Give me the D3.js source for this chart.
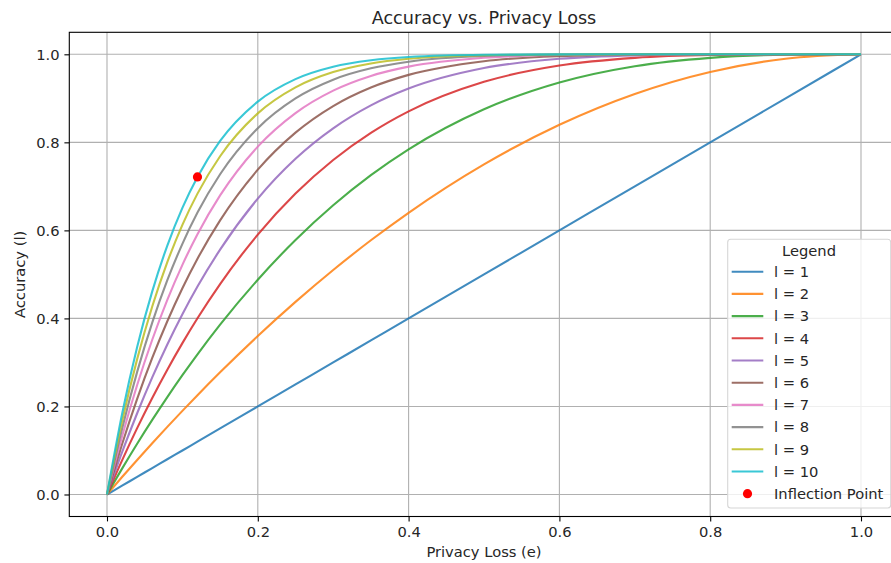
<!DOCTYPE html>
<html>
<head>
<meta charset="utf-8">
<script src="https://cdn.jsdelivr.net/npm/d3@7"></script>
<style>
  html, body { margin: 0; padding: 0; background: #fff; }
  svg { display: block; font-family: "DejaVu Sans", sans-serif; }
</style>
</head>
<body>
<svg id="chart" width="891" height="563"></svg>
<script>
// ---- data ----
const privacyLoss = [0, 0.02, 0.04, 0.06, 0.08, 0.1, 0.12, 0.15, 0.2, 0.25, 0.3, 0.35, 0.4, 0.5, 0.6, 0.7, 0.8, 0.9, 1.0];
const acc1  = [0, 0.02, 0.04, 0.06, 0.08, 0.1, 0.12, 0.15, 0.2, 0.25, 0.3, 0.35, 0.4, 0.5, 0.6, 0.7, 0.8, 0.9, 1];
const acc2  = [0, 0.0396, 0.0784, 0.1164, 0.1536, 0.19, 0.2256, 0.2775, 0.36, 0.4375, 0.51, 0.5775, 0.64, 0.75, 0.84, 0.91, 0.96, 0.99, 1];
const acc3  = [0, 0.0588, 0.1153, 0.1694, 0.2213, 0.271, 0.3185, 0.3859, 0.488, 0.5781, 0.657, 0.7254, 0.784, 0.875, 0.936, 0.973, 0.992, 0.999, 1];
const acc4  = [0, 0.0776, 0.1507, 0.2193, 0.2836, 0.3439, 0.4003, 0.478, 0.5904, 0.6836, 0.7599, 0.8215, 0.8704, 0.9375, 0.9744, 0.9919, 0.9984, 0.9999, 1];
const acc5  = [0, 0.0961, 0.1846, 0.2661, 0.3409, 0.4095, 0.4723, 0.5563, 0.6723, 0.7627, 0.8319, 0.884, 0.9222, 0.9688, 0.9898, 0.9976, 0.9997, 1, 1];
const acc6  = [0, 0.1142, 0.2172, 0.3101, 0.3936, 0.4686, 0.5356, 0.6228, 0.7379, 0.822, 0.8824, 0.9246, 0.9533, 0.9844, 0.9959, 0.9993, 0.9999, 1, 1];
const acc7  = [0, 0.1319, 0.2486, 0.3515, 0.4422, 0.5217, 0.5913, 0.6794, 0.7903, 0.8665, 0.9176, 0.951, 0.972, 0.9922, 0.9984, 0.9998, 1, 1, 1];
const acc8  = [0, 0.1492, 0.2786, 0.3904, 0.4868, 0.5695, 0.6404, 0.7275, 0.8322, 0.8999, 0.9424, 0.9681, 0.9832, 0.9961, 0.9993, 0.9999, 1, 1, 1];
const acc9  = [0, 0.1663, 0.3075, 0.427, 0.5278, 0.6126, 0.6835, 0.7684, 0.8658, 0.9249, 0.9596, 0.9793, 0.9899, 0.998, 0.9997, 1, 1, 1, 1];
const acc10 = [0, 0.1829, 0.3352, 0.4614, 0.5656, 0.6513, 0.7215, 0.8031, 0.8926, 0.9437, 0.9718, 0.9865, 0.994, 0.999, 0.9999, 1, 1, 1, 1];
const seriesLabels = ["l = 1", "l = 2", "l = 3", "l = 4", "l = 5", "l = 6", "l = 7", "l = 8", "l = 9", "l = 10"];
const inflectionPoint = [0.12, 0.7215];
const xTicks = [0, 0.2, 0.4, 0.6, 0.8, 1.0];
const yTicks = [0, 0.2, 0.4, 0.6, 0.8, 1.0];
const colors = ["#1f77b4", "#ff7f0e", "#2ca02c", "#d62728", "#9467bd", "#8c564b", "#e377c2", "#7f7f7f", "#bcbd22", "#17becf"];

const allAcc = [acc1, acc2, acc3, acc4, acc5, acc6, acc7, acc8, acc9, acc10];
const series = allAcc.map((vals, i) => ({
  label: seriesLabels[i],
  color: colors[i],
  points: privacyLoss.map((x, j) => [x, vals[j]])
}));

// ---- layout ----
const svg = d3.select("#chart");
const plot = { left: 69.3, right: 898.7, top: 32.3, bottom: 516.5 };
const x = d3.scaleLinear().domain([-0.05, 1.05]).range([plot.left, plot.right]);
const y = d3.scaleLinear().domain([-0.05, 1.05]).range([plot.bottom, plot.top]);

const gridColor = "#b0b0b0";
const fontSize = 14.7;

// grid
const grid = svg.append("g");
grid.selectAll("line.gx").data(xTicks).join("line")
  .attr("x1", d => x(d)).attr("x2", d => x(d))
  .attr("y1", plot.top).attr("y2", plot.bottom)
  .attr("stroke", gridColor).attr("stroke-width", 1.1);
grid.selectAll("line.gy").data(yTicks).join("line")
  .attr("y1", d => y(d)).attr("y2", d => y(d))
  .attr("x1", plot.left).attr("x2", plot.right)
  .attr("stroke", gridColor).attr("stroke-width", 1.1);

// lines
const line = d3.line().x(d => x(d[0])).y(d => y(d[1])).curve(d3.curveMonotoneX);
svg.append("g").selectAll("path").data(series).join("path")
  .attr("d", d => line(d.points))
  .attr("fill", "none")
  .attr("stroke", d => d.color)
  .attr("stroke-opacity", 0.85)
  .attr("stroke-width", 2.1);

// inflection point
svg.append("circle")
  .attr("cx", x(inflectionPoint[0])).attr("cy", y(inflectionPoint[1]))
  .attr("r", 4.6).attr("fill", "#ff0000");

// axes
const xAxis = d3.axisBottom(x).tickValues(xTicks).tickFormat(d3.format(".1f")).tickSize(4.9).tickPadding(4.9);
const yAxis = d3.axisLeft(y).tickValues(yTicks).tickFormat(d3.format(".1f")).tickSize(4.9).tickPadding(4.9);
const gx = svg.append("g").attr("transform", `translate(0,${plot.bottom})`).call(xAxis);
const gy = svg.append("g").attr("transform", `translate(${plot.left},0)`).call(yAxis);
[gx, gy].forEach(g => {
  g.select(".domain").remove();
  g.selectAll(".tick line").attr("stroke", "#000").attr("stroke-width", 1.1);
  g.selectAll(".tick text").attr("fill", "#262626")
    .style("font-size", fontSize + "px").style("font-family", "DejaVu Sans, sans-serif");
});

// spines
svg.append("rect")
  .attr("x", plot.left).attr("y", plot.top)
  .attr("width", plot.right - plot.left).attr("height", plot.bottom - plot.top)
  .attr("fill", "none").attr("stroke", "#000").attr("stroke-width", 1.1);

// title & labels
svg.append("text")
  .attr("x", (plot.left + plot.right) / 2).attr("y", 24)
  .attr("text-anchor", "middle").attr("fill", "#262626")
  .style("font-size", "17.6px").text("Accuracy vs. Privacy Loss");
svg.append("text")
  .attr("x", (plot.left + plot.right) / 2).attr("y", 557)
  .attr("text-anchor", "middle").attr("fill", "#262626")
  .style("font-size", fontSize + "px").text("Privacy Loss (e)");
svg.append("text")
  .attr("transform", `translate(25,${(plot.top + plot.bottom) / 2}) rotate(-90)`)
  .attr("text-anchor", "middle").attr("fill", "#262626")
  .style("font-size", fontSize + "px").text("Accuracy (l)");

// legend
const lg = svg.append("g");
const lgBox = { x: 727.7, y: 239.3, w: 163, h: 268.7 };
lg.append("rect")
  .attr("x", lgBox.x).attr("y", lgBox.y).attr("width", lgBox.w).attr("height", lgBox.h)
  .attr("rx", 3).attr("ry", 3)
  .attr("fill", "#fff").attr("fill-opacity", 0.8)
  .attr("stroke", "#d6d6d6").attr("stroke-width", 1.1);
lg.append("text")
  .attr("x", 809).attr("y", 256)
  .attr("text-anchor", "middle").attr("fill", "#262626")
  .style("font-size", fontSize + "px").text("Legend");
const rowY = i => 271.7 + 22.2 * i;
const rows = lg.selectAll("g.row").data(series).join("g");
rows.append("line")
  .attr("x1", 731.7).attr("x2", 763.3)
  .attr("y1", (d, i) => rowY(i)).attr("y2", (d, i) => rowY(i))
  .attr("stroke", d => d.color).attr("stroke-opacity", 0.85).attr("stroke-width", 2.1);
rows.append("text")
  .attr("x", 774).attr("y", (d, i) => rowY(i)).attr("dy", "0.36em")
  .attr("fill", "#262626").style("font-size", fontSize + "px")
  .text(d => d.label);
lg.append("circle")
  .attr("cx", 747.5).attr("cy", rowY(10)).attr("r", 4.6).attr("fill", "#ff0000");
lg.append("text")
  .attr("x", 774).attr("y", rowY(10)).attr("dy", "0.36em")
  .attr("fill", "#262626").style("font-size", fontSize + "px")
  .text("Inflection Point");
</script>
</body>
</html>
